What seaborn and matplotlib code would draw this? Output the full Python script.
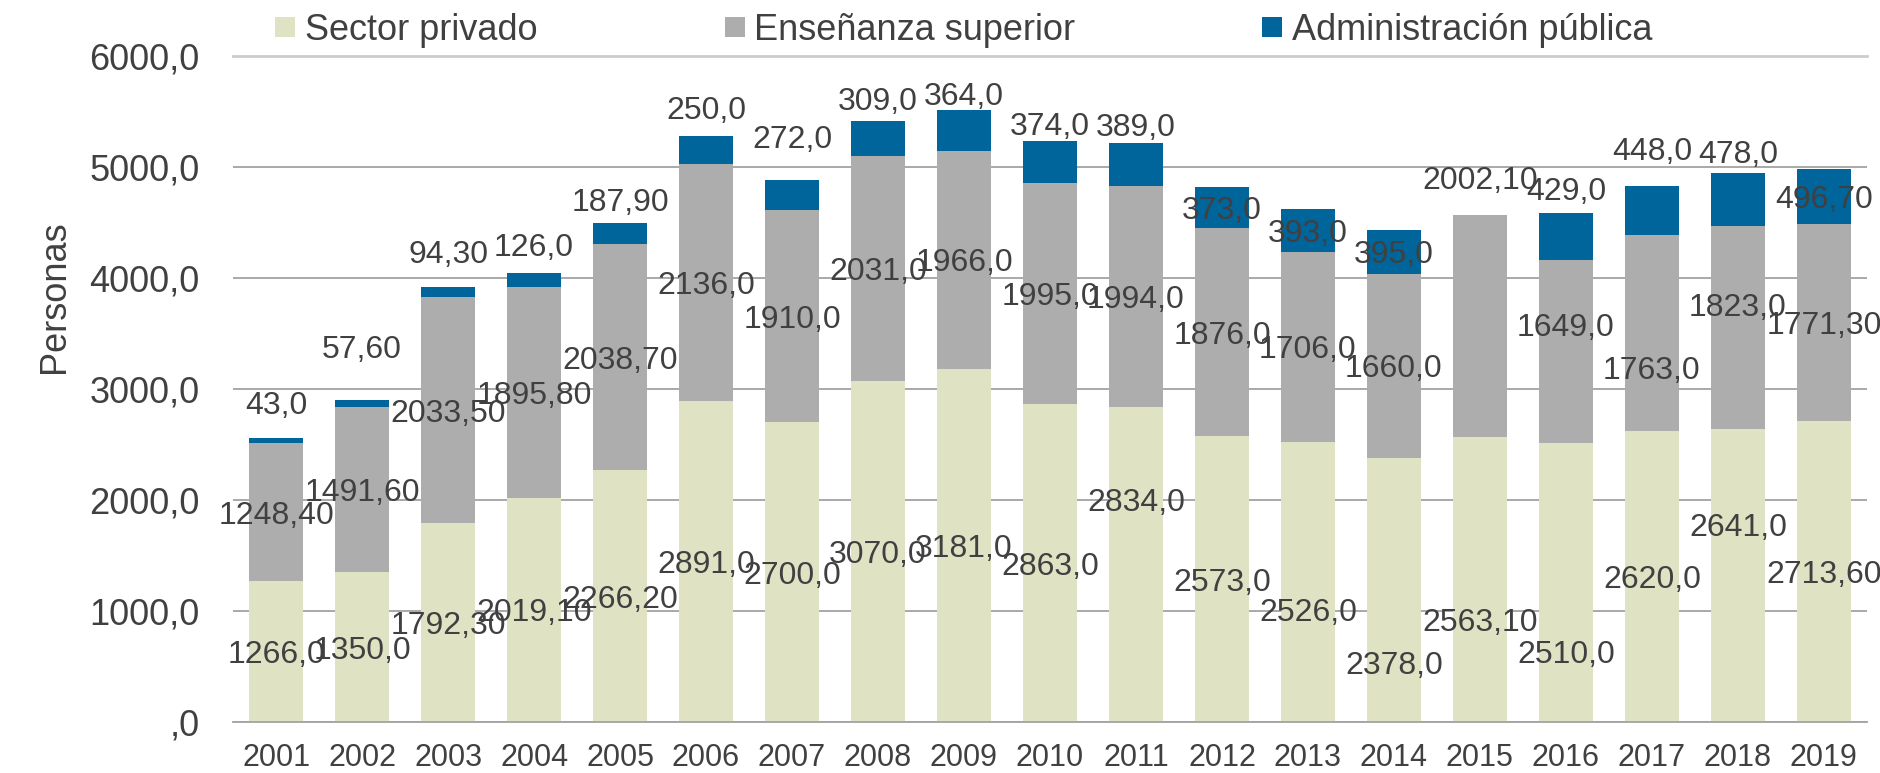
import numpy as np
import pandas as pd
import matplotlib
matplotlib.use('Agg')
import matplotlib.pyplot as plt
from matplotlib.lines import Line2D
import seaborn as sns

# Data (personas)
years = [str(y) for y in range(2001, 2020)]
privado = [1266.0, 1350.0, 1792.3, 2019.1, 2266.2, 2891.0, 2700.0, 3070.0, 3181.0, 2863.0,
           2834.0, 2573.0, 2526.0, 2378.0, 2563.1, 2510.0, 2620.0, 2641.0, 2713.6]
superior = [1248.4, 1491.6, 2033.5, 1895.8, 2038.7, 2136.0, 1910.0, 2031.0, 1966.0, 1995.0,
            1994.0, 1876.0, 1706.0, 1660.0, 2002.1, 1649.0, 1763.0, 1823.0, 1771.3]
publica = [43.0, 57.6, 94.3, 126.0, 187.9, 250.0, 272.0, 309.0, 364.0, 374.0,
           389.0, 373.0, 393.0, 395.0, np.nan, 429.0, 448.0, 478.0, 496.7]
series_names = ['Sector privado', 'Enseñanza superior', 'Administración pública']

# label nudges (data units) away from the segment centre, as placed in the original
off_priv = [0, 0, 0, 0, 0, 0, 0, 0, 0, 0, 583, 0, -254, -657, -362, -624, 0, 455, 0]
off_sup = [0] * 14 + [1337, 243, -312, 205, 0]
off_pub = [338, 508, 370, 328, 304, 380, 524, 357, 329, 351, 364, 0, 0, 0, 0, 437, 555, 432, 0]

C_PRIV = '#E0E2C4'
C_SUP = '#ADADAD'
C_PUB = '#00659A'
TXT = '#404040'

sns.set_style('white')
plt.rcParams['font.family'] = ['Liberation Sans', 'DejaVu Sans']
plt.rcParams['text.color'] = TXT


def fmt(v):
    s = f'{v:.1f}' if float(v).is_integer() else f'{v:.2f}'
    return s.replace('.', ',')


priv = np.array(privado)
sup = np.array(superior)
pub = np.array(publica)
df = pd.DataFrame({
    'year': years,
    'priv': priv,
    'mid': priv + sup,
    'total': priv + sup + np.nan_to_num(pub),
})

fig = plt.figure(figsize=(18.8, 7.73), dpi=100)
ax = fig.add_axes([0.124, 0.066, 0.869, 0.8616])

# stacked bars drawn as overlapping cumulative totals
for col, c in [('total', C_PUB), ('mid', C_SUP), ('priv', C_PRIV)]:
    sns.barplot(data=df, x='year', y=col, color=c, width=0.62, saturation=1,
                linewidth=0, errorbar=None, ax=ax)

ax.set_xlim(-0.5, len(years) - 0.5)
ax.set_ylim(0, 6000)
ax.set_yticks(range(0, 7000, 1000))
ax.set_yticklabels([',0' if t == 0 else fmt(float(t)) for t in range(0, 7000, 1000)])
ax.set_xlabel('')
ax.set_ylabel('')
ax.yaxis.grid(True, color='#A3A3A3', lw=1.3)
ax.set_axisbelow(True)
for s in ['left', 'right']:
    ax.spines[s].set_visible(False)
ax.spines['bottom'].set_color('#A3A3A3')
ax.spines['bottom'].set_linewidth(1.3)
ax.spines['top'].set_color('#CCCCCC')
ax.spines['top'].set_linewidth(2)
ax.tick_params(axis='y', length=0, pad=24, labelsize=26, labelcolor=TXT)
ax.tick_params(axis='x', length=0, pad=15, labelsize=22, labelcolor=TXT)

# data labels
lab_kw = dict(ha='center', va='center_baseline', fontsize=23, color=TXT)
for i in range(len(years)):
    ax.text(i, priv[i] / 2 + off_priv[i], fmt(priv[i]), **lab_kw)
    ax.text(i, priv[i] + sup[i] / 2 + off_sup[i], fmt(sup[i]), **lab_kw)
    if not np.isnan(pub[i]):
        ax.text(i, priv[i] + sup[i] + pub[i] / 2 + off_pub[i], fmt(pub[i]), **lab_kw)

fig.text(0.029, 0.616, 'Personas', rotation=90, ha='center', va='center',
         fontsize=26, color=TXT)

handles = [Line2D([], [], ls='none', marker='s', markersize=14, markerfacecolor=c,
                  markeredgewidth=0) for c in (C_PRIV, C_SUP, C_PUB)]
fig.legend(handles, series_names, loc='center', bbox_to_anchor=(0.513, 0.961), ncol=3,
           frameon=False, fontsize=26, handlelength=0.5, handletextpad=0.3,
           columnspacing=5.2, borderpad=0, labelcolor=TXT)

fig.savefig('out.png', dpi=100)
